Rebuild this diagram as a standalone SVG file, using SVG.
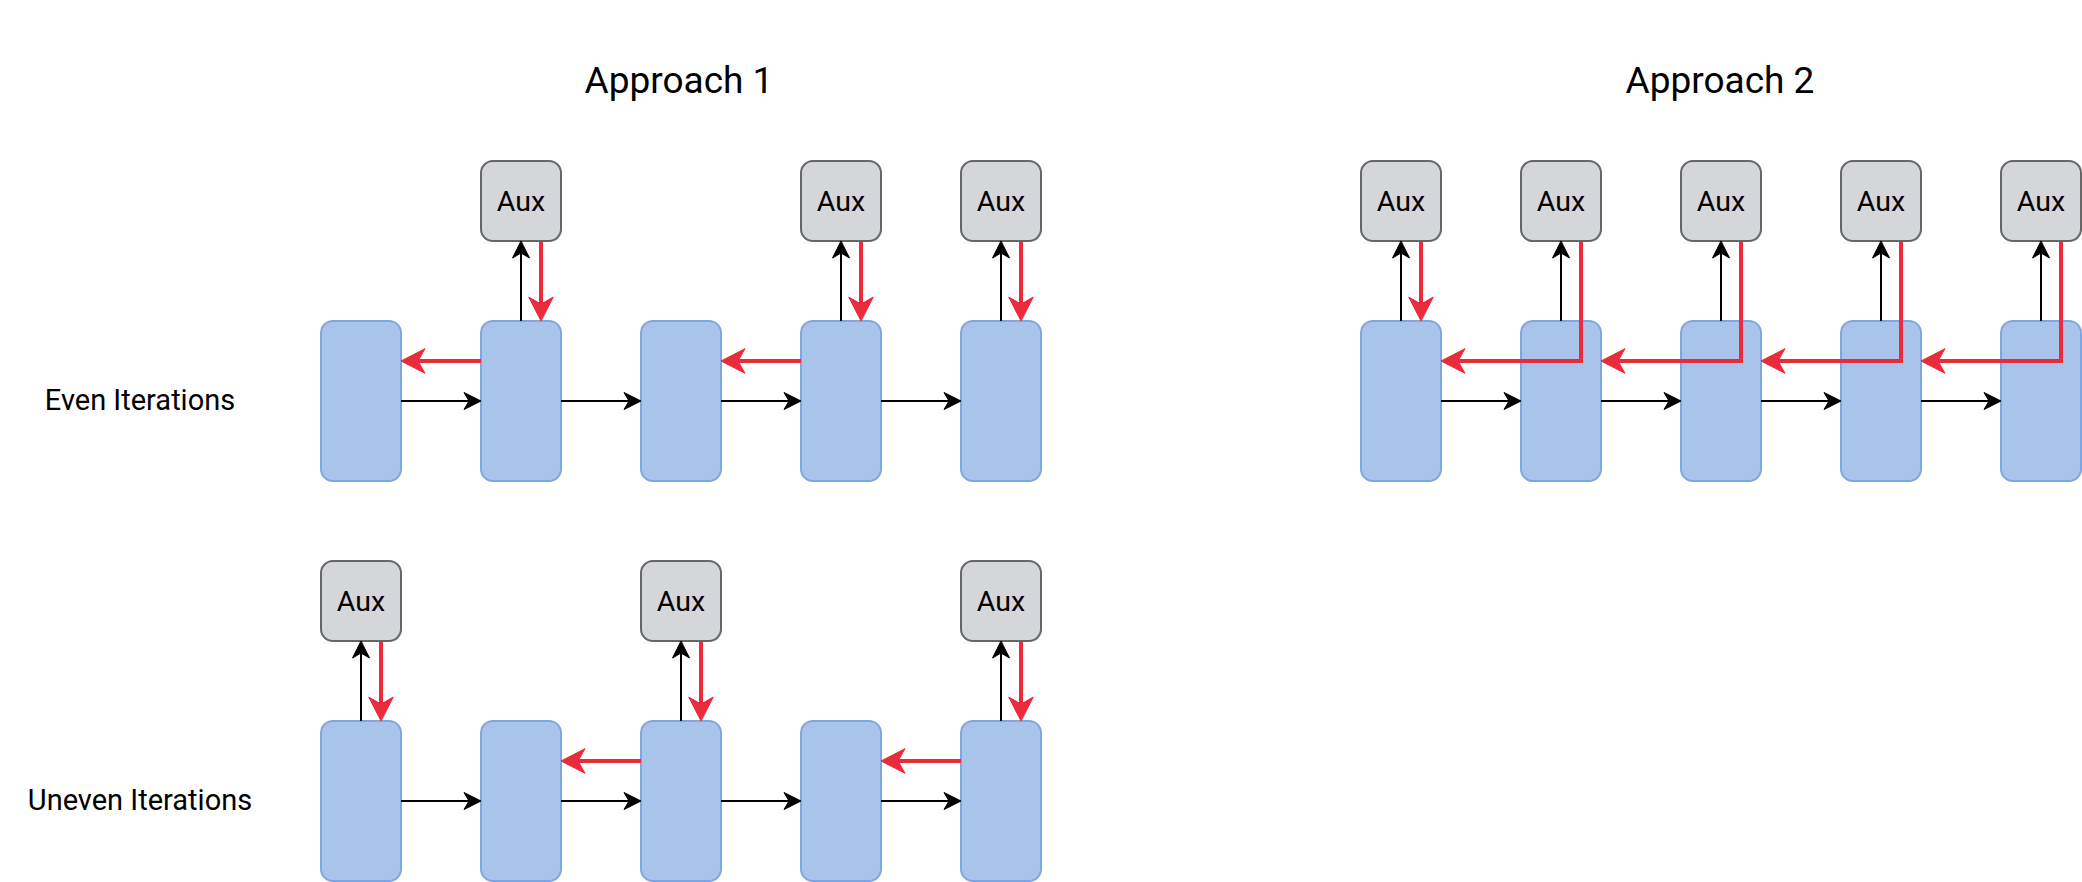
<svg xmlns="http://www.w3.org/2000/svg" width="2082" height="882" viewBox="0 0 2082 882">
<style>
.blk{fill:#A9C4EB;stroke:#7EA6E0;stroke-width:2}
.aux{fill:#D5D6DA;stroke:#666666;stroke-width:2}
.t{font-family:Roboto,"Liberation Sans",sans-serif;fill:#000;text-anchor:middle}
.auxt{font-size:28.5px}
.lbl{font-size:29px}
.ttl{font-size:37px}
.bk{fill:none;stroke:#000;stroke-width:2;marker-end:url(#ab)}
.rd{fill:none;stroke:#EB2A3A;stroke-width:4;stroke-linejoin:miter;marker-end:url(#ar)}
</style>
<defs>
<marker id="ab" markerUnits="userSpaceOnUse" viewBox="-20 -12 24 24" markerWidth="24" markerHeight="24" refX="-8" refY="0" orient="auto">
<path d="M0,0 L-17,-8.5 L-12,0 L-17,8.5 Z" fill="#000" stroke="#000" stroke-width="1" stroke-linejoin="miter"/>
</marker>
<marker id="ar" markerUnits="userSpaceOnUse" viewBox="-28 -16 32 32" markerWidth="32" markerHeight="32" refX="-12" refY="0" orient="auto">
<path d="M0,0 L-24,-12.3 L-17,0 L-24,12.3 Z" fill="#EB2A3A" stroke="#EB2A3A" stroke-width="1" stroke-linejoin="miter"/>
</marker>
</defs>
<rect width="2082" height="882" fill="#fff"/>

<g id="titles">
<text class="t ttl" x="679" y="93">Approach 1</text>
<text class="t ttl" x="1720" y="93">Approach 2</text>
<text class="t lbl" x="140" y="410">Even Iterations</text>
<text class="t lbl" x="140" y="810">Uneven Iterations</text>
</g>

<!-- Approach 1, even row -->
<g id="a1e-b1"><rect class="blk" x="321" y="321" width="80" height="160" rx="12"/></g>
<g id="a1e-b2"><rect class="blk" x="481" y="321" width="80" height="160" rx="12"/></g>
<g id="a1e-b3"><rect class="blk" x="641" y="321" width="80" height="160" rx="12"/></g>
<g id="a1e-b4"><rect class="blk" x="801" y="321" width="80" height="160" rx="12"/></g>
<g id="a1e-b5"><rect class="blk" x="961" y="321" width="80" height="160" rx="12"/></g>
<g id="a1e-x2"><rect class="aux" x="481" y="161" width="80" height="80" rx="12"/><text class="t auxt" x="521" y="211">Aux</text></g>
<g id="a1e-x4"><rect class="aux" x="801" y="161" width="80" height="80" rx="12"/><text class="t auxt" x="841" y="211">Aux</text></g>
<g id="a1e-x5"><rect class="aux" x="961" y="161" width="80" height="80" rx="12"/><text class="t auxt" x="1001" y="211">Aux</text></g>

<!-- Approach 1, uneven row -->
<g id="a1u-b1"><rect class="blk" x="321" y="721" width="80" height="160" rx="12"/></g>
<g id="a1u-b2"><rect class="blk" x="481" y="721" width="80" height="160" rx="12"/></g>
<g id="a1u-b3"><rect class="blk" x="641" y="721" width="80" height="160" rx="12"/></g>
<g id="a1u-b4"><rect class="blk" x="801" y="721" width="80" height="160" rx="12"/></g>
<g id="a1u-b5"><rect class="blk" x="961" y="721" width="80" height="160" rx="12"/></g>
<g id="a1u-x1"><rect class="aux" x="321" y="561" width="80" height="80" rx="12"/><text class="t auxt" x="361" y="611">Aux</text></g>
<g id="a1u-x3"><rect class="aux" x="641" y="561" width="80" height="80" rx="12"/><text class="t auxt" x="681" y="611">Aux</text></g>
<g id="a1u-x5"><rect class="aux" x="961" y="561" width="80" height="80" rx="12"/><text class="t auxt" x="1001" y="611">Aux</text></g>

<!-- Approach 2 -->
<g id="a2-b1"><rect class="blk" x="1361" y="321" width="80" height="160" rx="12"/></g>
<g id="a2-b2"><rect class="blk" x="1521" y="321" width="80" height="160" rx="12"/></g>
<g id="a2-b3"><rect class="blk" x="1681" y="321" width="80" height="160" rx="12"/></g>
<g id="a2-b4"><rect class="blk" x="1841" y="321" width="80" height="160" rx="12"/></g>
<g id="a2-b5"><rect class="blk" x="2001" y="321" width="80" height="160" rx="12"/></g>
<g id="a2-x1"><rect class="aux" x="1361" y="161" width="80" height="80" rx="12"/><text class="t auxt" x="1401" y="211">Aux</text></g>
<g id="a2-x2"><rect class="aux" x="1521" y="161" width="80" height="80" rx="12"/><text class="t auxt" x="1561" y="211">Aux</text></g>
<g id="a2-x3"><rect class="aux" x="1681" y="161" width="80" height="80" rx="12"/><text class="t auxt" x="1721" y="211">Aux</text></g>
<g id="a2-x4"><rect class="aux" x="1841" y="161" width="80" height="80" rx="12"/><text class="t auxt" x="1881" y="211">Aux</text></g>
<g id="a2-x5"><rect class="aux" x="2001" y="161" width="80" height="80" rx="12"/><text class="t auxt" x="2041" y="211">Aux</text></g>

<g id="connectors">
<path class="bk" d="M401,401 L473,401"/>
<path class="bk" d="M561,401 L633,401"/>
<path class="bk" d="M721,401 L793,401"/>
<path class="bk" d="M881,401 L953,401"/>
<path class="bk" d="M521,321 L521,249"/>
<path class="bk" d="M841,321 L841,249"/>
<path class="bk" d="M1001,321 L1001,249"/>
<path class="rd" d="M541,241 L541,309"/>
<path class="rd" d="M861,241 L861,309"/>
<path class="rd" d="M1021,241 L1021,309"/>
<path class="rd" d="M481,361 L413,361"/>
<path class="rd" d="M801,361 L733,361"/>

<path class="bk" d="M401,801 L473,801"/>
<path class="bk" d="M561,801 L633,801"/>
<path class="bk" d="M721,801 L793,801"/>
<path class="bk" d="M881,801 L953,801"/>
<path class="bk" d="M361,721 L361,649"/>
<path class="bk" d="M681,721 L681,649"/>
<path class="bk" d="M1001,721 L1001,649"/>
<path class="rd" d="M381,641 L381,709"/>
<path class="rd" d="M701,641 L701,709"/>
<path class="rd" d="M1021,641 L1021,709"/>
<path class="rd" d="M641,761 L573,761"/>
<path class="rd" d="M961,761 L893,761"/>

<path class="bk" d="M1441,401 L1513,401"/>
<path class="bk" d="M1601,401 L1673,401"/>
<path class="bk" d="M1761,401 L1833,401"/>
<path class="bk" d="M1921,401 L1993,401"/>
<path class="bk" d="M1401,321 L1401,249"/>
<path class="bk" d="M1561,321 L1561,249"/>
<path class="bk" d="M1721,321 L1721,249"/>
<path class="bk" d="M1881,321 L1881,249"/>
<path class="bk" d="M2041,321 L2041,249"/>
<path class="rd" d="M1421,241 L1421,309"/>
<path class="rd" d="M1581,241 L1581,361 L1453,361"/>
<path class="rd" d="M1741,241 L1741,361 L1613,361"/>
<path class="rd" d="M1901,241 L1901,361 L1773,361"/>
<path class="rd" d="M2061,241 L2061,361 L1933,361"/>
</g>
</svg>
